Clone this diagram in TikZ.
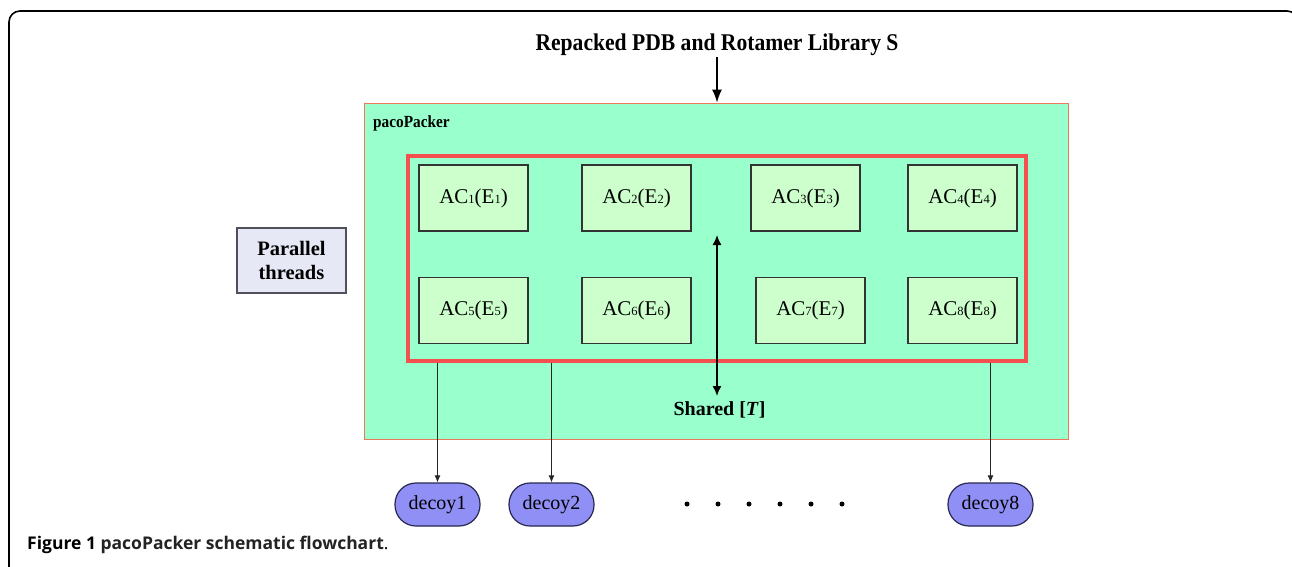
\documentclass[tikz,border=0pt]{standalone}
\usepackage{fontspec}
\setmainfont{Liberation Serif}
\newfontfamily\capfont{Open Sans}
\newfontfamily\condser[FakeStretch=0.9]{Liberation Serif}
\usetikzlibrary{arrows.meta}
\definecolor{mint}{RGB}{153,255,204}
\definecolor{mintedge}{RGB}{235,120,90}
\definecolor{acfill}{RGB}{204,255,204}
\definecolor{redbox}{RGB}{245,80,80}
\definecolor{decoyfill}{RGB}{143,143,245}
\definecolor{decoyedge}{RGB}{40,40,80}
\definecolor{ptfill}{RGB}{230,233,245}
\definecolor{ptedge}{RGB}{80,80,90}
\definecolor{capsemi}{RGB}{35,35,35}
\newcommand{\acl}[1]{AC{\fontsize{12.5}{12.5}\selectfont #1}(E{\fontsize{12.5}{12.5}\selectfont #1})}
\tikzset{
  acbox/.style={draw=black!80, line width=1.4pt, fill=acfill, minimum width=109pt, minimum height=66pt, inner sep=0pt, font=\fontsize{21}{21}\selectfont},
  decoy/.style={draw=decoyedge, line width=1.2pt, fill=decoyfill, minimum width=85pt, minimum height=43pt, inner sep=0pt, rounded corners=21pt, font=\fontsize{20}{20}\selectfont},
  outlink/.style={draw=black!85, line width=0.9pt, -{Latex[length=7pt,width=6pt]}},
  dotmark/.style={fill=black, circle, inner sep=0pt, minimum size=5pt}
}
\begin{document}
\begin{tikzpicture}[x=1pt,y=-1pt]
\useasboundingbox (0,0) rectangle (1292,566);
\fill[white] (0,0) rectangle (1292,566);
\begin{scope}
  \clip (0,0) rectangle (1292,566);
  \draw[line width=1.6pt, rounded corners=11pt] (9,11) rectangle (1298,620);
\end{scope}
% green container
\node[draw=mintedge, line width=0.9pt, fill=mint, minimum width=704pt, minimum height=336pt, inner sep=0pt] (pp) at (716,271) {};
\node[anchor=base west, inner sep=0pt, font=\condser\bfseries\fontsize{17}{17}\selectfont] (pplabel) at (373,127) {pacoPacker};
% title
\node[anchor=base, inner sep=0pt, font=\condser\bfseries\fontsize{24}{24}\selectfont] (title) at (717,50) {Repacked PDB and Rotamer Library S};
\coordinate (tarr) at (717,57);
\draw[line width=1.5pt, -{Latex[length=13pt,width=10pt]}] (tarr) -- (pp.north -| tarr);
% red box
\node[draw=redbox, line width=4pt, minimum width=618pt, minimum height=205pt, inner sep=0pt] (red) at (717,258.5) {};
% AC boxes
\node[acbox] (ac1) at (473.5,198) {\acl{1}};
\node[acbox] (ac2) at (636.5,198) {\acl{2}};
\node[acbox] (ac3) at (805.5,198) {\acl{3}};
\node[acbox] (ac4) at (962.5,198) {\acl{4}};
\node[acbox] (ac5) at (473.5,310.5) {\acl{5}};
\node[acbox] (ac6) at (636.5,310.5) {\acl{6}};
\node[acbox] (ac7) at (810.5,310.5) {\acl{7}};
\node[acbox] (ac8) at (962.5,310.5) {\acl{8}};
% parallel threads
\node[draw=ptedge, line width=1.4pt, fill=ptfill, minimum width=109pt, minimum height=65pt, inner sep=0pt, align=center, font=\bfseries\fontsize{20.5}{24}\selectfont] (pt) at (291.5,260.5) {Parallel\\threads};
% shared
\node[anchor=base, inner sep=0pt, font=\bfseries\fontsize{20}{20}\selectfont] (shared) at (719.5,415) {Shared [\textit{T}]};
\coordinate (stop) at (717,235);
\coordinate (sbot) at (717,396);
\draw[line width=1.5pt, {Latex[length=10pt,width=9pt]}-{Latex[length=10pt,width=9pt]}] (stop) -- (sbot);
% decoys
\node[decoy] (d1) at (437.5,504.5) {decoy1};
\node[decoy] (d2) at (551.5,504.5) {decoy2};
\node[decoy] (d8) at (990.5,504.5) {decoy8};
\draw[outlink] (red.south -| d1.north) -- (d1.north);
\draw[outlink] (red.south -| d2.north) -- (d2.north);
\draw[outlink] (red.south -| d8.north) -- (d8.north);
% dots
\foreach \i/\xx in {1/687,2/718,3/749,4/780,5/811,6/842}{
  \node[dotmark] (dot\i) at (\xx,504) {};
}
% caption
\node[anchor=base west, inner sep=0pt, font=\capfont\fontsize{17.5}{17.5}\selectfont] (cap) at (27,549) {{\bfseries Figure 1} {\bfseries\color{capsemi}pacoPacker schematic flowchart}.};
\end{tikzpicture}
\end{document}
